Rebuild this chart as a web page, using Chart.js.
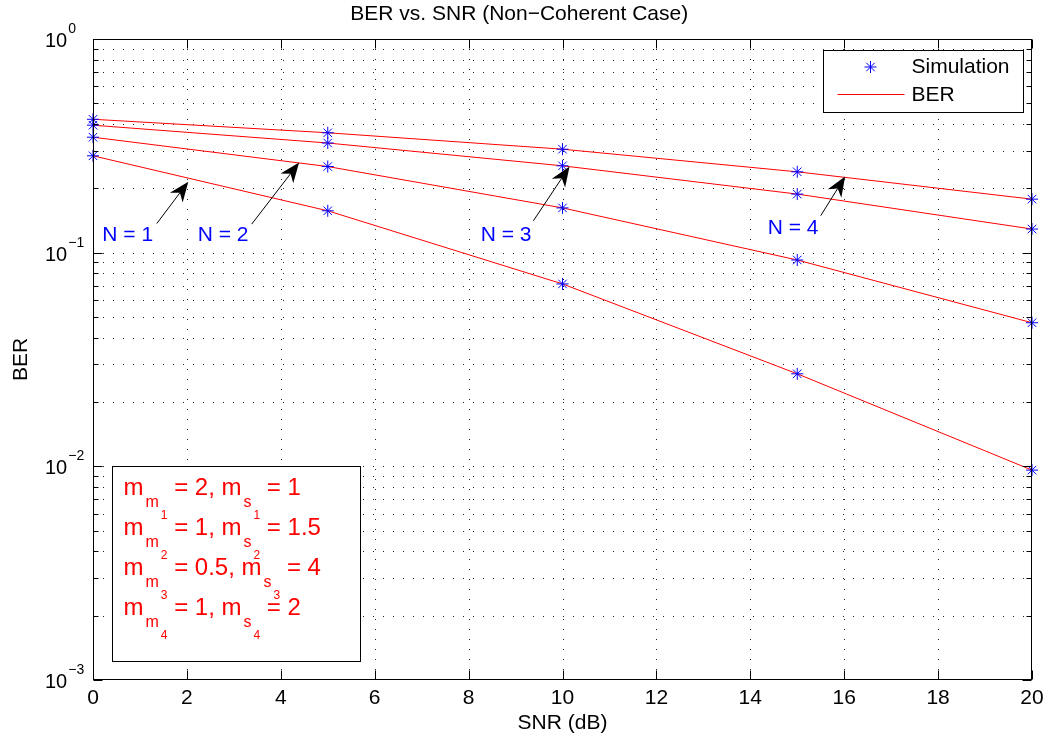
<!DOCTYPE html>
<html lang="en">
<head>
<meta charset="utf-8">
<title>BER vs. SNR (Non-Coherent Case)</title>
<script src="https://cdn.jsdelivr.net/npm/chart.js@4.4.1/dist/chart.umd.min.js"></script>
<style>
    html, body { margin: 0; padding: 0; background: #fff; }
    canvas { display: block; }
</style>
</head>
<body>
<canvas id="grafico" width="1055" height="744"></canvas>
<script>
// valores
const snr = [0, 5, 10, 15, 20];

const simN1 = [0.284, 0.157, 0.0714, 0.0271, 0.0096];
const simN2 = [0.347, 0.253, 0.162, 0.0924, 0.047];
const simN3 = [0.395, 0.326, 0.255, 0.188, 0.129];
const simN4 = [0.421, 0.364, 0.305, 0.239, 0.178];

const berN1 = [0.284, 0.157, 0.0714, 0.0271, 0.0096];
const berN2 = [0.347, 0.253, 0.162, 0.0924, 0.047];
const berN3 = [0.395, 0.326, 0.255, 0.188, 0.129];
const berN4 = [0.421, 0.364, 0.305, 0.239, 0.178];

const ticksX = [0, 2, 4, 6, 8, 10, 12, 14, 16, 18, 20];
const expoentesY = [0, -1, -2, -3];

// rótulos "N = k" e setas, em coordenadas dos eixos
const rotulosN = ["N = 1", "N = 2", "N = 3", "N = 4"];
const ancoraRotulo = [[0.74, 0.121], [2.77, 0.121], [8.80, 0.121], [14.91, 0.1305]];
const setaDe = [[1.36, 0.137], [3.38, 0.136], [9.38, 0.141], [15.5, 0.149]];
const setaPara = [[2.03, 0.215], [4.39, 0.264], [10.15, 0.253], [16.02, 0.227]];

// texto da caixa de parâmetros: [texto, nível] (0 normal, 1 subscrito, 2 sub-subscrito)
const parametros = [
    [["m", 0], ["m", 1], ["1", 2], [" = 2, m", 0], ["s", 1], ["1", 2], [" = 1", 0]],
    [["m", 0], ["m", 1], ["2", 2], [" = 1, m", 0], ["s", 1], ["2", 2], [" = 1.5", 0]],
    [["m", 0], ["m", 1], ["3", 2], [" = 0.5, m", 0], ["s", 1], ["3", 2], [" = 4", 0]],
    [["m", 0], ["m", 1], ["4", 2], [" = 1, m", 0], ["s", 1], ["4", 2], [" = 2", 0]]
];

const FONTE = "'Liberation Sans', Arial, Helvetica, sans-serif";
const AZUL = "#0000ff";
const VERMELHO = "#ff0000";

function pontos(valores) {
    return snr.map(function (x, i) {
        return { x: x, y: valores[i] };
    });
}

function serieSim(valores) {
    return {
        label: "Simulation",
        data: pontos(valores),
        showLine: false,
        pointStyle: "star",
        pointRadius: 6,
        pointBorderWidth: 1,
        pointBorderColor: AZUL,
        pointBackgroundColor: AZUL,
        borderColor: AZUL,
        clip: false,
        order: 0
    };
}

function serieBer(valores) {
    return {
        label: "BER",
        data: pontos(valores),
        borderColor: VERMELHO,
        borderWidth: 1,
        pointRadius: 0,
        tension: 0,
        fill: false,
        clip: false,
        order: 1
    };
}

function linha(ctx, x1, y1, x2, y2) {
    ctx.beginPath();
    ctx.moveTo(x1, y1);
    ctx.lineTo(x2, y2);
    ctx.stroke();
}

function estrela(ctx, x, y, r) {
    ctx.save();
    ctx.strokeStyle = AZUL;
    ctx.lineWidth = 1;
    linha(ctx, x - r, y, x + r, y);
    linha(ctx, x, y - r, x, y + r);
    let d = r * Math.SQRT1_2;
    linha(ctx, x - d, y - d, x + d, y + d);
    linha(ctx, x - d, y + d, x + d, y - d);
    ctx.restore();
}

function seta(ctx, x1, y1, x2, y2) {
    let ang = Math.atan2(y2 - y1, x2 - x1);
    let c = Math.cos(ang), s = Math.sin(ang);
    let comp = 20, larg = 8, entalhe = 14;
    ctx.save();
    ctx.strokeStyle = "#000";
    ctx.fillStyle = "#000";
    ctx.lineWidth = 1;
    linha(ctx, x1, y1, x2 - c * entalhe, y2 - s * entalhe);
    ctx.beginPath();
    ctx.moveTo(x2, y2);
    ctx.lineTo(x2 - c * comp - s * larg, y2 - s * comp + c * larg);
    ctx.lineTo(x2 - c * entalhe, y2 - s * entalhe);
    ctx.lineTo(x2 - c * comp + s * larg, y2 - s * comp - c * larg);
    ctx.closePath();
    ctx.fill();
    ctx.restore();
}

const desenhoExtra = {
    id: "desenhoExtra",
    beforeDatasetsDraw(chart) {
        const ctx = chart.ctx;
        const area = chart.chartArea;
        const sx = chart.scales.x;
        const sy = chart.scales.y;

        ctx.save();
        ctx.strokeStyle = "#222";
        ctx.lineWidth = 1;
        ctx.setLineDash([1, 9]);
        sx.ticks.forEach(function (t) {
            if (t.value <= sx.min || t.value >= sx.max) return;
            let px = Math.round(sx.getPixelForValue(t.value)) + 0.5;
            linha(ctx, px, area.top, px, area.bottom);
        });
        sy.ticks.forEach(function (t) {
            if (t.value <= sy.min || t.value >= sy.max) return;
            let py = Math.round(sy.getPixelForValue(t.value)) + 0.5;
            linha(ctx, area.left, py, area.right, py);
        });
        ctx.restore();
    },
    afterDatasetsDraw(chart) {
        const ctx = chart.ctx;
        const area = chart.chartArea;
        const sx = chart.scales.x;
        const sy = chart.scales.y;

        // setas e rótulos N
        for (let i = 0; i < rotulosN.length; i++) {
            seta(ctx,
                sx.getPixelForValue(setaDe[i][0]), sy.getPixelForValue(setaDe[i][1]),
                sx.getPixelForValue(setaPara[i][0]), sy.getPixelForValue(setaPara[i][1]));
        }
        ctx.save();
        ctx.fillStyle = AZUL;
        ctx.font = "21px " + FONTE;
        ctx.textAlign = "center";
        ctx.textBaseline = "middle";
        for (let i = 0; i < rotulosN.length; i++) {
            ctx.fillText(rotulosN[i],
                sx.getPixelForValue(ancoraRotulo[i][0]),
                sy.getPixelForValue(ancoraRotulo[i][1]));
        }
        ctx.restore();

        // caixa de parâmetros
        let bx = Math.round(area.left + 19) + 0.5;
        let by = Math.round(area.bottom - 214) + 0.5;
        ctx.save();
        ctx.fillStyle = "#fff";
        ctx.strokeStyle = "#000";
        ctx.lineWidth = 1;
        ctx.fillRect(bx, by, 248, 195);
        ctx.strokeRect(bx, by, 248, 195);
        ctx.fillStyle = VERMELHO;
        ctx.textAlign = "left";
        ctx.textBaseline = "alphabetic";
        const tamanhos = [24, 16, 12];
        const desloc = [0, 12, 24];
        parametros.forEach(function (partes, k) {
            let base = by + 28.5 + 40 * k;
            let x = bx + 11;
            let nivelAnt = 0;
            partes.forEach(function (p) {
                let nivel = p[1];
                if (nivel > nivelAnt) x += 2;
                ctx.font = tamanhos[nivel] + "px " + FONTE;
                ctx.fillText(p[0], x, base + desloc[nivel]);
                x += ctx.measureText(p[0]).width;
                nivelAnt = nivel;
            });
        });
        ctx.restore();

        // moldura dos eixos e marcas para dentro
        ctx.save();
        ctx.strokeStyle = "#000";
        ctx.lineWidth = 1;
        let l = Math.round(area.left) + 0.5;
        let r = Math.round(area.right) - 0.5;
        let t = Math.round(area.top) + 0.5;
        let b = Math.round(area.bottom) - 0.5;
        ctx.strokeRect(l, t, r - l, b - t);
        sx.ticks.forEach(function (tk) {
            let px = Math.round(sx.getPixelForValue(tk.value)) + 0.5;
            linha(ctx, px, b, px, b - 9);
            linha(ctx, px, t, px, t + 9);
        });
        sy.ticks.forEach(function (tk) {
            let py = Math.round(sy.getPixelForValue(tk.value)) + 0.5;
            let tam = tk.major ? 9 : 5;
            linha(ctx, l, py, l + tam, py);
            linha(ctx, r, py, r - tam, py);
        });

        // rótulos do eixo y: 10 com expoente
        ctx.fillStyle = "#000";
        ctx.textAlign = "left";
        ctx.textBaseline = "alphabetic";
        expoentesY.forEach(function (e) {
            let py = sy.getPixelForValue(Math.pow(10, e));
            let x0 = area.left - 48;
            ctx.font = "20px " + FONTE;
            ctx.fillText("10", x0, py + 8);
            let w = ctx.measureText("10").width;
            ctx.font = "14px " + FONTE;
            ctx.fillText(e === 0 ? "0" : "\u2212" + Math.abs(e), x0 + w + 1, py - 6);
        });
        ctx.restore();

        // legenda
        let lx = Math.round(area.right - 209) + 0.5;
        let ly = Math.round(area.top + 11) + 0.5;
        ctx.save();
        ctx.fillStyle = "#fff";
        ctx.strokeStyle = "#000";
        ctx.lineWidth = 1;
        ctx.fillRect(lx, ly, 200, 62);
        ctx.strokeRect(lx, ly, 200, 62);
        estrela(ctx, lx + 47, ly + 16.5, 6);
        ctx.strokeStyle = VERMELHO;
        linha(ctx, lx + 14, ly + 44, lx + 81, ly + 44);
        ctx.fillStyle = "#000";
        ctx.font = "21px " + FONTE;
        ctx.textAlign = "left";
        ctx.textBaseline = "middle";
        ctx.fillText("Simulation", lx + 88, ly + 17);
        ctx.fillText("BER", lx + 88, ly + 45);
        ctx.restore();
    }
};

Chart.defaults.font.family = FONTE;
Chart.defaults.color = "#000";

let grafico = new Chart(document.getElementById("grafico"), {
    type: "line",
    data: {
        datasets: [
            serieSim(simN1), serieSim(simN2), serieSim(simN3), serieSim(simN4),
            serieBer(berN1), serieBer(berN2), serieBer(berN3), serieBer(berN4)
        ]
    },
    options: {
        responsive: false,
        devicePixelRatio: 1,
        animation: false,
        events: [],
        layout: {
            padding: { left: 6.5, right: 23, top: 0, bottom: 10 }
        },
        plugins: {
            legend: { display: false },
            tooltip: { enabled: false },
            title: {
                display: true,
                text: "BER vs. SNR (Non\u2212Coherent Case)",
                color: "#000",
                font: { size: 21, weight: "normal", lineHeight: 1 },
                padding: { top: 4, bottom: 14 }
            }
        },
        scales: {
            x: {
                type: "linear",
                min: 0,
                max: 20,
                afterBuildTicks: function (escala) {
                    escala.ticks = ticksX.map(function (v) { return { value: v }; });
                },
                grid: { display: false, drawTicks: false },
                border: { display: false },
                ticks: {
                    color: "#000",
                    padding: 8,
                    maxRotation: 0,
                    font: { size: 21, lineHeight: 1 }
                },
                title: {
                    display: true,
                    text: "SNR (dB)",
                    color: "#000",
                    font: { size: 21, lineHeight: 1 },
                    padding: { top: -4, bottom: 0 }
                }
            },
            y: {
                type: "logarithmic",
                min: 0.001,
                max: 1,
                afterBuildTicks: function (escala) {
                    let lista = [];
                    for (let e = -3; e < 0; e++) {
                        for (let m = 1; m <= 9; m++) {
                            lista.push({ value: m * Math.pow(10, e), major: m === 1 });
                        }
                    }
                    lista.push({ value: 1, major: true });
                    escala.ticks = lista;
                },
                grid: { display: false, drawTicks: false },
                border: { display: false },
                ticks: { display: false },
                title: {
                    display: true,
                    text: "BER",
                    color: "#000",
                    font: { size: 21, lineHeight: 1 },
                    padding: { top: 4, bottom: 61.5 }
                }
            }
        }
    },
    plugins: [desenhoExtra]
});
</script>
</body>
</html>
